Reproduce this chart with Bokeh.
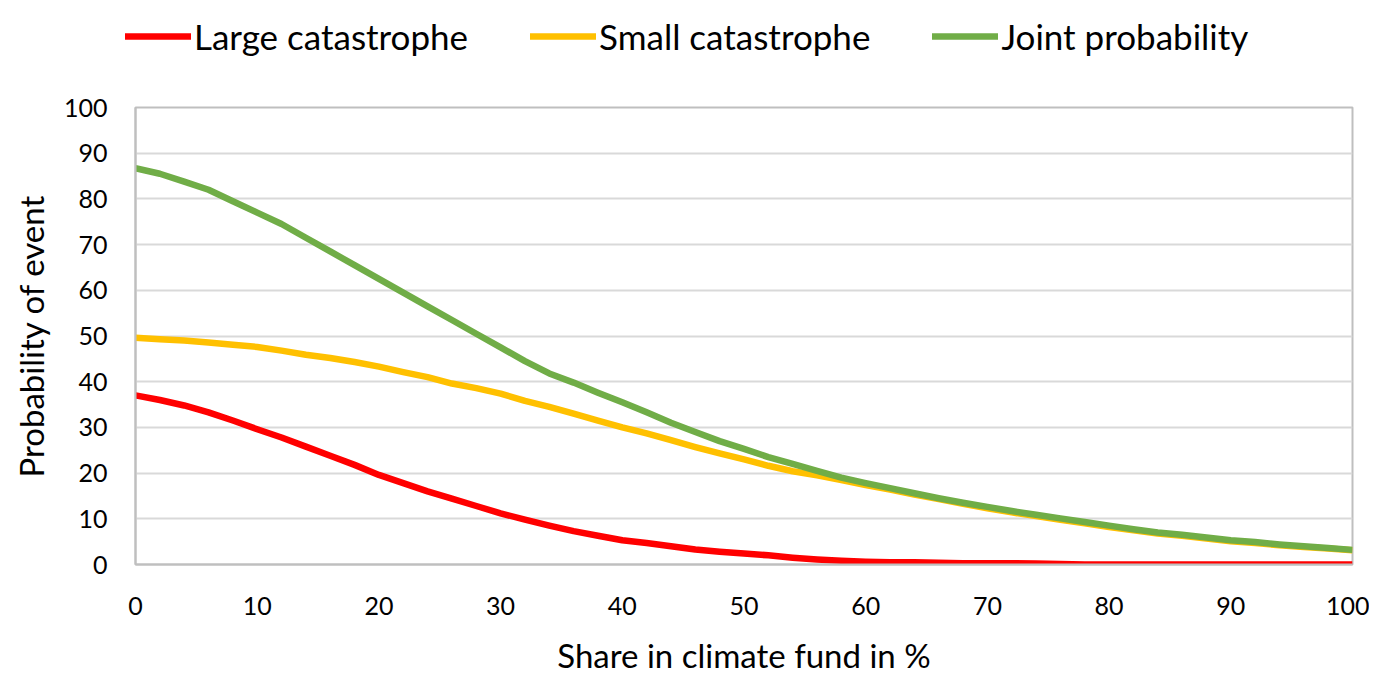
from bokeh.plotting import figure
from bokeh.models import Legend, LegendItem, Range1d, FixedTicker
from bokeh.embed import file_html
from bokeh.resources import INLINE

share = list(range(0, 101, 2))
large = [37.0, 36.0, 34.8, 33.3, 31.5, 29.6, 27.8, 25.8, 23.8, 21.8,
         19.6, 17.8, 16.0, 14.4, 12.8, 11.2, 9.8, 8.5, 7.3, 6.3,
         5.3, 4.7, 4.0, 3.3, 2.8, 2.4, 2.0, 1.5, 1.1, 0.8,
         0.6, 0.5, 0.5, 0.4, 0.3, 0.3, 0.3, 0.2, 0.1, 0.0,
         0.0, 0.0, 0.0, 0.0, 0.0, 0.0, 0.0, 0.0, 0.0, 0.0, 0.0]
small = [49.6, 49.3, 49.0, 48.6, 48.1, 47.6, 46.8, 45.9, 45.2, 44.3,
         43.3, 42.1, 41.0, 39.6, 38.6, 37.4, 35.8, 34.5, 33.0, 31.5,
         30.0, 28.7, 27.2, 25.7, 24.3, 23.0, 21.6, 20.4, 19.5, 18.5,
         17.4, 16.4, 15.3, 14.3, 13.3, 12.3, 11.4, 10.6, 9.8, 9.0,
         8.2, 7.5, 6.8, 6.3, 5.7, 5.1, 4.7, 4.2, 3.8, 3.5, 3.1]
joint = [86.7, 85.5, 83.8, 82.0, 79.5, 77.0, 74.5, 71.5, 68.5, 65.5,
         62.5, 59.5, 56.5, 53.5, 50.5, 47.5, 44.5, 41.8, 39.8, 37.6,
         35.5, 33.3, 31.0, 29.0, 27.0, 25.3, 23.5, 22.0, 20.5, 19.0,
         17.8, 16.7, 15.6, 14.5, 13.5, 12.6, 11.7, 10.9, 10.1, 9.3,
         8.5, 7.7, 7.0, 6.5, 5.9, 5.3, 4.9, 4.4, 4.0, 3.6, 3.2]

series_names = ["Large catastrophe", "Small catastrophe", "Joint probability"]
series_colors = ["#FF0000", "#FFC000", "#70AD47"]
x_ticks = list(range(0, 101, 10))
y_ticks = list(range(0, 101, 10))

FONT = "Lato"
LW = 6.5

# ---- legend strip (series lie outside its view; only the legend shows) ----
leg = figure(width=1369, height=92, output_backend="svg", toolbar_location=None,
             x_axis_type=None, y_axis_type=None,
             x_range=Range1d(0, 100), y_range=Range1d(1000, 1001),
             min_border_left=0, min_border_right=0, min_border_top=0, min_border_bottom=0)
leg.outline_line_color = None
leg.xgrid.grid_line_color = None
leg.ygrid.grid_line_color = None
leg_renderers = [leg.line(share, ys, line_color=c, line_width=LW, line_cap="round")
                 for ys, c in zip([large, small, joint], series_colors)]
legend = Legend(items=[LegendItem(label=n, renderers=[r]) for n, r in zip(series_names, leg_renderers)],
                orientation="horizontal", location=(125, 35),
                label_text_font=FONT, label_text_font_size="35px", label_text_color="#000000",
                glyph_width=66, glyph_height=30, label_standoff=3, spacing=62,
                padding=0, margin=0, border_line_color=None, background_fill_alpha=0)
leg.add_layout(legend, "center")

# ---- main chart ----
p = figure(width=1369, height=585, output_backend="svg", toolbar_location=None,
           x_range=Range1d(0, 100), y_range=Range1d(0, 100),
           min_border_left=135, min_border_right=17, min_border_top=15,
           min_border_bottom=112)
p.outline_line_color = "#BFBFBF"
p.outline_line_width = 2
p.background_fill_color = "white"
p.border_fill_color = "white"

for ys, c in zip([large, small, joint], series_colors):
    p.line(share, ys, line_color=c, line_width=LW, line_join="round")

for ax in (p.xaxis[0], p.yaxis[0]):
    ax.axis_line_color = "#BFBFBF"
    ax.axis_line_width = 2
    ax.major_tick_line_color = None
    ax.minor_tick_line_color = None
    ax.major_label_text_font = FONT
    ax.major_label_text_font_size = "25px"
    ax.major_label_text_color = "#000000"
    ax.axis_label_text_font = FONT
    ax.axis_label_text_font_size = "33px"
    ax.axis_label_text_font_style = "normal"
    ax.axis_label_text_color = "#000000"

p.xaxis.ticker = FixedTicker(ticks=x_ticks)
p.yaxis.ticker = FixedTicker(ticks=y_ticks)
p.xaxis.axis_label = "Share in climate fund in %"
p.yaxis.axis_label = "Probability of event"
p.xaxis.major_label_standoff = 26
p.yaxis.major_label_standoff = 22
p.xaxis.axis_label_standoff = 17
p.yaxis.axis_label_standoff = 10

p.xgrid.grid_line_color = None
p.ygrid.grid_line_color = "#D9D9D9"
p.ygrid.grid_line_width = 2

open("out.html", "w").write(file_html([leg, p], INLINE))
